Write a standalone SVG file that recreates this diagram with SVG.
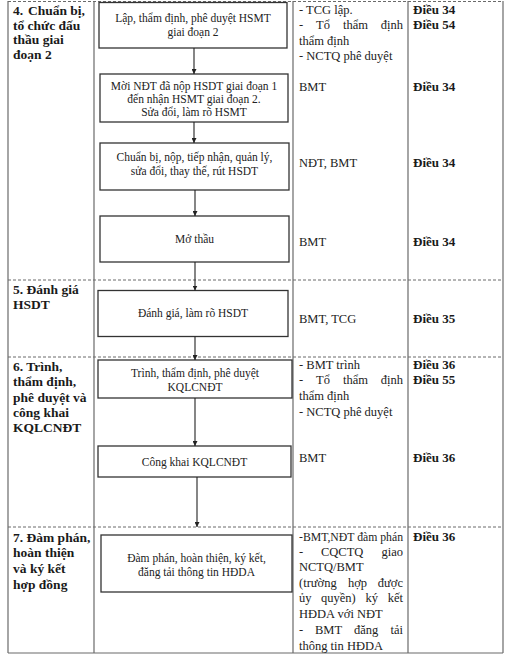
<svg xmlns="http://www.w3.org/2000/svg" width="512" height="660" viewBox="0 0 512 660">
<style>
.grid{stroke:#6a6a6a;stroke-width:1.2;fill:none}
.dash{stroke:#6a6a6a;stroke-width:1;stroke-dasharray:3 2;fill:none}
.box{fill:#fff;stroke:#333;stroke-width:1.3}
.bt{font-family:"Liberation Serif",serif;font-size:11.5px;fill:#222;text-anchor:middle}
.st{font-family:"Liberation Serif",serif;font-size:13.5px;font-weight:bold;fill:#1a1a1a}
.rt{font-family:"Liberation Serif",serif;font-size:12.5px;fill:#222}
.lt{font-family:"Liberation Serif",serif;font-size:13px;font-weight:bold;fill:#1a1a1a}
.con{stroke:#222;stroke-width:1.1;fill:none;marker-end:url(#ah)}
</style>
<defs>
<marker id="ah" viewBox="0 0 10 10" refX="10" refY="5" markerWidth="5" markerHeight="5" markerUnits="userSpaceOnUse" orient="auto">
<path d="M0,0 L10,5 L0,10 z" fill="#222"/>
</marker>
</defs>
<rect width="512" height="660" fill="#fff"/>
<g id="table">
<line class="dash" x1="8" y1="1.5" x2="503" y2="1.5"/>
<line class="grid" x1="8" y1="1" x2="8" y2="653"/>
<line class="grid" x1="94" y1="1" x2="94" y2="653"/>
<line class="grid" x1="293" y1="1" x2="293" y2="653"/>
<line class="grid" x1="408" y1="1" x2="408" y2="653"/>
<line class="grid" x1="503" y1="1" x2="503" y2="653"/>
<line class="grid" x1="8" y1="653" x2="503" y2="653"/>
<line class="dash" x1="8" y1="280" x2="503" y2="280"/>
<line class="dash" x1="8" y1="357" x2="503" y2="357"/>
<line class="dash" x1="8" y1="527" x2="503" y2="527"/>
</g>
<g id="stages">
<text class="st" x="13" y="15">4.</text><text class="st" x="28" y="15">Chuẩn</text><text class="st" x="85" y="15" text-anchor="end">bị,</text>
<text class="st" x="13" y="29.5">tổ chức đấu</text>
<text class="st" x="13" y="44">thầu giai</text>
<text class="st" x="13" y="58.5">đoạn 2</text>
<text class="st" x="13" y="294">5. Đánh giá</text>
<text class="st" x="13" y="309">HSDT</text>
<text class="st" x="13" y="371">6. Trình,</text>
<text class="st" x="13" y="386">thẩm định,</text>
<text class="st" x="13" y="401.5">phê duyệt và</text>
<text class="st" x="13" y="417">công khai</text>
<text class="st" x="13" y="432">KQLCNĐT</text>
<text class="st" x="13" y="542">7. Đàm phán,</text>
<text class="st" x="13" y="557">hoàn thiện</text>
<text class="st" x="13" y="573">và ký kết</text>
<text class="st" x="13" y="589">hợp đồng</text>
</g>
<g id="n1"><rect class="box" x="99" y="2.5" width="188" height="45.5"/>
<text class="bt" x="193" y="22">Lập, thẩm định, phê duyệt HSMT</text>
<text class="bt" x="193" y="35.5">giai đoạn 2</text></g>
<g id="n2"><rect class="box" x="100" y="74" width="188" height="48"/>
<text class="bt" x="194" y="90">Mời NĐT đã nộp HSDT giai đoạn 1</text>
<text class="bt" x="194" y="103">đến nhận HSMT giai đoạn 2.</text>
<text class="bt" x="194" y="115.5">Sửa đổi, làm rõ HSMT</text></g>
<g id="n3"><rect class="box" x="100" y="143" width="189" height="47"/>
<text class="bt" x="194.5" y="160.5">Chuẩn bị, nộp, tiếp nhận, quản lý,</text>
<text class="bt" x="194.5" y="175">sửa đổi, thay thế, rút HSDT</text></g>
<g id="n4"><rect class="box" x="100" y="216" width="189" height="46"/>
<text class="bt" x="194.5" y="243">Mở thầu</text></g>
<g id="n5"><rect class="box" x="98" y="290.5" width="190" height="46"/>
<text class="bt" x="193" y="317">Đánh giá, làm rõ HSDT</text></g>
<g id="n6"><rect class="box" x="98" y="360" width="194" height="38"/>
<text class="bt" x="195" y="377">Trình, thẩm định, phê duyệt</text>
<text class="bt" x="195" y="391">KQLCNĐT</text></g>
<g id="n7"><rect class="box" x="98" y="446" width="193" height="31"/>
<text class="bt" x="194.5" y="466">Công khai KQLCNĐT</text></g>
<g id="n8"><rect class="box" x="101" y="535" width="191" height="57"/>
<text class="bt" x="196.5" y="562">Đàm phán, hoàn thiện, ký kết,</text>
<text class="bt" x="196.5" y="576">đăng tải thông tin HĐDA</text></g>
<g id="connectors">
<line class="con" x1="194" y1="48" x2="194" y2="74"/>
<line class="con" x1="194" y1="122" x2="194" y2="143"/>
<line class="con" x1="195" y1="190" x2="195" y2="216"/>
<line class="con" x1="195" y1="262" x2="195" y2="290.5"/>
<line class="con" x1="195" y1="336.5" x2="195" y2="360"/>
<line class="con" x1="195" y1="398" x2="195" y2="446"/>
<line class="con" x1="197" y1="477" x2="197" y2="527"/>
</g>
<g id="responsible">
<text class="rt" x="299" y="14">- TCG lập.</text>
<text class="rt" x="299" y="29">-</text><text class="rt" x="316" y="29">Tổ</text><text class="rt" x="343" y="29">thẩm</text><text class="rt" x="403" y="29" text-anchor="end">định</text>
<text class="rt" x="299" y="44.5">thẩm định</text>
<text class="rt" x="299" y="60">- NCTQ phê duyệt</text>
<text class="rt" x="299" y="91">BMT</text>
<text class="rt" x="299" y="167">NĐT, BMT</text>
<text class="rt" x="299" y="246">BMT</text>
<text class="rt" x="299" y="323">BMT, TCG</text>
<text class="rt" x="299" y="369">- BMT trình</text>
<text class="rt" x="299" y="384">-</text><text class="rt" x="316" y="384">Tổ</text><text class="rt" x="343" y="384">thẩm</text><text class="rt" x="403" y="384" text-anchor="end">định</text>
<text class="rt" x="299" y="400">thẩm định</text>
<text class="rt" x="299" y="416">- NCTQ phê duyệt</text>
<text class="rt" x="299" y="462">BMT</text>
<text class="rt" x="299" y="541" textLength="104" lengthAdjust="spacingAndGlyphs">-BMT,NĐT đàm phán</text>
<text class="rt" x="299" y="556">-</text><text class="rt" x="321" y="556">CQCTQ</text><text class="rt" x="403" y="556" text-anchor="end">giao</text>
<text class="rt" x="299" y="571">NCTQ/BMT</text>
<text class="rt" x="299" y="587">(trường</text><text class="rt" x="348" y="587">hợp</text><text class="rt" x="403" y="587" text-anchor="end">được</text>
<text class="rt" x="299" y="602">ủy</text><text class="rt" x="321" y="602">quyền)</text><text class="rt" x="365.5" y="602">ký</text><text class="rt" x="403" y="602" text-anchor="end">kết</text>
<text class="rt" x="299" y="618">HĐDA với NĐT</text>
<text class="rt" x="299" y="634">-</text><text class="rt" x="315" y="634">BMT</text><text class="rt" x="354" y="634">đăng</text><text class="rt" x="403" y="634" text-anchor="end">tải</text>
<text class="rt" x="299" y="650">thông tin HĐDA</text>
</g>
<g id="legal">
<text class="lt" x="413" y="14">Điều 34</text>
<text class="lt" x="413" y="29">Điều 54</text>
<text class="lt" x="413" y="91">Điều 34</text>
<text class="lt" x="413" y="167">Điều 34</text>
<text class="lt" x="413" y="246">Điều 34</text>
<text class="lt" x="413" y="323">Điều 35</text>
<text class="lt" x="413" y="369">Điều 36</text>
<text class="lt" x="413" y="384">Điều 55</text>
<text class="lt" x="413" y="462">Điều 36</text>
<text class="lt" x="413" y="541">Điều 36</text>
</g>
</svg>
